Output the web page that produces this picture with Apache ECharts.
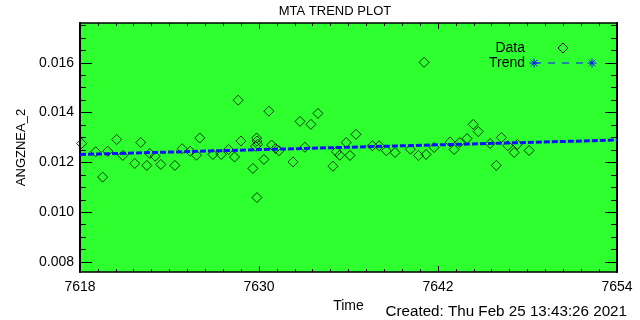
<!DOCTYPE html>
<html>
<head>
<meta charset="utf-8">
<script src="https://cdn.jsdelivr.net/npm/echarts@6/dist/echarts.min.js"></script>
<style>
html,body{margin:0;padding:0;background:#fff;}
#chart{width:640px;height:320px;}
</style>
</head>
<body>
<div id="chart"></div>
<script>
// ---- data ----
const dataTime = [7618.11,7619.05,7619.52,7619.86,7620.46,7620.87,7621.67,7622.07,7622.48,7622.68,
  7623.04,7623.42,7624.36,7624.85,7625.39,7625.81,7626.03,7626.91,7627.47,7627.96,
  7628.36,7628.60,7628.79,7629.59,7629.84,7629.87,7629.91,7629.77,7629.86,7630.33,
  7630.66,7630.85,7631.11,7631.34,7632.28,7632.75,7633.08,7633.48,7633.95,7634.96,
  7635.19,7635.41,7635.85,7636.10,7636.50,7637.60,7638.05,7638.54,7639.12,7640.15,
  7640.69,7641.07,7641.20,7641.74,7642.81,7643.08,7643.46,7643.95,7644.36,7644.70,
  7645.50,7645.91,7646.25,7646.68,7647.11,7647.32,7648.11];
const dataValue = [0.01276,0.01243,0.01141,0.01245,0.01292,0.01228,0.01196,0.01280,0.01188,0.01236,
  0.01225,0.01192,0.01188,0.01255,0.01245,0.01229,0.01298,0.01232,0.01232,0.01252,
  0.01222,0.01450,0.01286,0.01176,0.01298,0.01286,0.01273,0.01265,0.01059,0.01212,
  0.01406,0.01270,0.01256,0.01247,0.01202,0.01365,0.01261,0.01353,0.01397,0.01185,
  0.01243,0.01229,0.01280,0.01228,0.01313,0.01267,0.01267,0.01247,0.01240,0.01253,
  0.01228,0.01602,0.01232,0.01260,0.01282,0.01252,0.01280,0.01296,0.01353,0.01324,
  0.01276,0.01188,0.01300,0.01267,0.01240,0.01272,0.01248];
const trendTime = [7618, 7654];
const trendValue = [0.01232, 0.01290];
const xTickLabels = [7618, 7630, 7642, 7654];
const yTickLabels = [0.008, 0.010, 0.012, 0.014, 0.016];

const xMin = 7618, xMax = 7654, yMin = 0.0076, yMax = 0.0176;
const xMinor = [];
for (let i = 0; i <= 30; i++) xMinor.push(+(xMin + i * 1.2).toFixed(4));
const yMinor = [];
for (let i = 0; i <= 20; i++) { const v = +(0.0075 + i * 0.0005).toFixed(5); if (v >= yMin && v <= yMax) yMinor.push(v); }

const FONT = 'Liberation Sans';
const GREEN = '#2eff2e';

function xAx(pos, values, len, labels, extra) {
  return Object.assign({
    type: 'value', min: xMin, max: xMax, position: pos,
    axisLine: { show: false },
    axisTick: { show: true, inside: true, length: len, customValues: values, lineStyle: { color: '#000', width: 1 } },
    axisLabel: labels ? { show: true, customValues: xTickLabels, color: '#000', fontFamily: FONT, fontSize: 14, margin: 8, formatter: v => String(Math.round(v)) } : { show: false },
    splitLine: { show: false }
  }, extra || {});
}
function yAx(pos, values, len, labels, extra) {
  return Object.assign({
    type: 'value', min: yMin, max: yMax, position: pos,
    axisLine: { show: false },
    axisTick: { show: true, inside: true, length: len, customValues: values, lineStyle: { color: '#000', width: 1 } },
    axisLabel: labels ? { show: true, customValues: yTickLabels, color: '#000', fontFamily: FONT, fontSize: 14, margin: 6, formatter: v => v.toFixed(3) } : { show: false },
    splitLine: { show: false }
  }, extra || {});
}

const chart = echarts.init(document.getElementById('chart'), null, { renderer: 'canvas' });

function asterisk(cx, cy, r, color) {
  const d = r * 0.72;
  return [
    { type: 'line', shape: { x1: cx - r, y1: cy, x2: cx + r, y2: cy }, style: { stroke: color, lineWidth: 1 } },
    { type: 'line', shape: { x1: cx, y1: cy - r, x2: cx, y2: cy + r }, style: { stroke: color, lineWidth: 1 } },
    { type: 'line', shape: { x1: cx - d, y1: cy - d, x2: cx + d, y2: cy + d }, style: { stroke: color, lineWidth: 1 } },
    { type: 'line', shape: { x1: cx - d, y1: cy + d, x2: cx + d, y2: cy - d }, style: { stroke: color, lineWidth: 1 } }
  ];
}

const option = {
  animation: false,
  backgroundColor: '#fff',
  grid: { left: 80, right: 23, top: 23, bottom: 48, show: true, backgroundColor: GREEN, borderColor: '#000', borderWidth: 1.5 },
  xAxis: [
    xAx('bottom', xTickLabels, 6, true, { name: 'Time', nameLocation: 'middle', nameGap: 24, nameTextStyle: { color: '#000', fontFamily: FONT, fontSize: 14 } }),
    xAx('bottom', xMinor, 3, false),
    xAx('top', xTickLabels, 6, false),
    xAx('top', xMinor, 3, false)
  ],
  yAxis: [
    yAx('left', yTickLabels, 12, true, { name: 'ANGZNEA_2', nameLocation: 'middle', nameGap: 50, nameRotate: 90, nameTextStyle: { color: '#000', fontFamily: FONT, fontSize: 13 }, axisLine: { show: true, lineStyle: { color: '#000', width: 2 } } }),
    yAx('left', yMinor, 6, false),
    yAx('right', yTickLabels, 12, false, { axisLine: { show: true, lineStyle: { color: '#000', width: 2 } } }),
    yAx('right', yMinor, 6, false)
  ],
  series: [
    {
      type: 'scatter', xAxisIndex: 0, yAxisIndex: 0,
      symbol: 'diamond', symbolSize: 10,
      itemStyle: { color: 'rgba(0,0,0,0)', borderColor: '#000', borderWidth: 1 },
      data: dataTime.map((t, i) => [t, dataValue[i]]),
      z: 3
    },
    {
      type: 'line', xAxisIndex: 0, yAxisIndex: 0,
      symbol: 'none',
      lineStyle: { color: '#1010ff', width: 3, type: [6, 2] },
      data: trendTime.map((t, i) => [t, trendValue[i]]),
      z: 4
    }
  ],
  graphic: [
    { type: 'text', x: 335, y: 11, style: { text: 'MTA TREND PLOT', font: '13px "Liberation Sans"', fill: '#000', textAlign: 'center', textVerticalAlign: 'middle' } },
    { type: 'text', x: 627, y: 312, style: { text: 'Created: Thu Feb 25 13:43:26 2021', font: '15.2px "Liberation Sans"', fill: '#000', textAlign: 'right', textVerticalAlign: 'middle' } },
    { type: 'text', x: 525, y: 48, style: { text: 'Data', font: '14px "Liberation Sans"', fill: '#000', textAlign: 'right', textVerticalAlign: 'middle' } },
    { type: 'polygon', shape: { points: [[563, 43], [568, 48], [563, 53], [558, 48]] }, style: { fill: 'none', stroke: '#000', lineWidth: 1 } },
    { type: 'text', x: 525, y: 63, style: { text: 'Trend', font: '14px "Liberation Sans"', fill: '#000', textAlign: 'right', textVerticalAlign: 'middle' } },
    { type: 'line', shape: { x1: 534, y1: 63, x2: 592, y2: 63 }, style: { stroke: '#1010ff', lineWidth: 1, lineDash: [7, 7] } }
  ].concat(asterisk(534, 63, 4.5, '#1010ff'), asterisk(592, 63, 4.5, '#1010ff'))
};
chart.setOption(option);
</script>
</body>
</html>
